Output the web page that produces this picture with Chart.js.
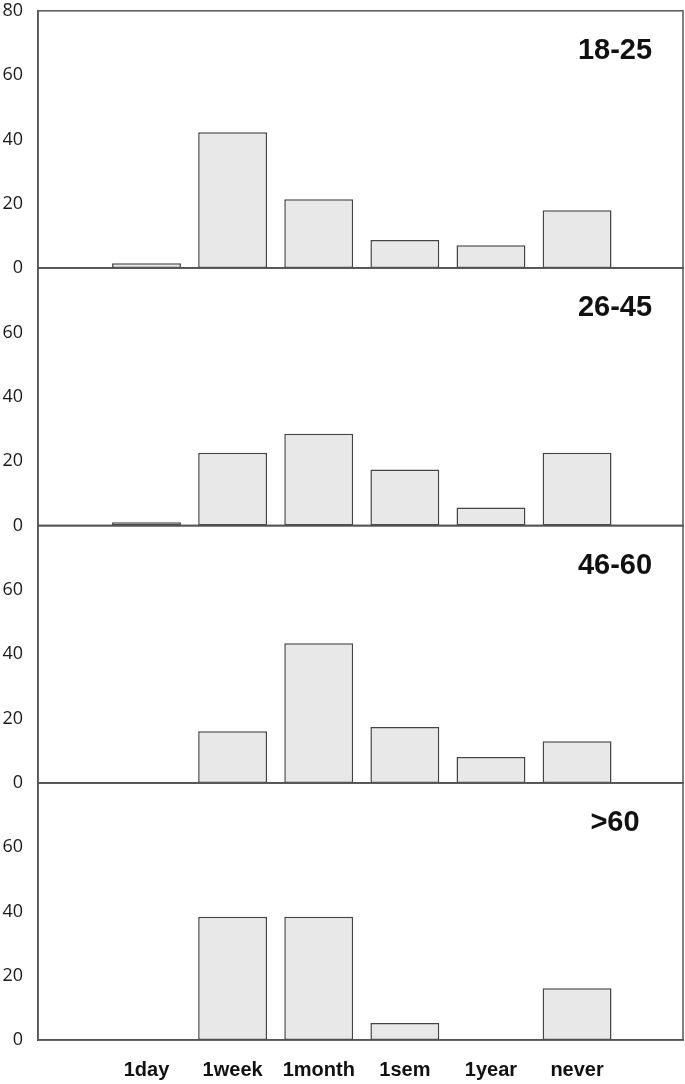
<!DOCTYPE html>
<html>
<head>
<meta charset="utf-8">
<script src="https://cdn.jsdelivr.net/npm/chart.js@4/dist/chart.umd.min.js"></script>
<style>
  html, body { margin:0; padding:0; background:#fff; }
  #wrap { position:relative; width:685px; height:1084px; }
  #wrap canvas { position:absolute; left:0; top:0; }
</style>
</head>
<body>
<div id="wrap">
  <canvas id="p0" width="685" height="1084"></canvas>
  <canvas id="p1" width="685" height="1084"></canvas>
  <canvas id="p2" width="685" height="1084"></canvas>
  <canvas id="p3" width="685" height="1084"></canvas>
</div>
<script>
const categories = ['1day', '1week', '1month', '1sem', '1year', 'never'];
const panelNames = ['18-25', '26-45', '46-60', '>60'];
const age18_25 = [1.5, 42.2, 21.4, 8.7, 7.1, 18.0];
const age26_45 = [1.0, 22.6, 28.5, 17.4, 5.6, 22.6];
const age46_60 = [0, 16.1, 43.4, 17.4, 8.1, 13.0];
const age60plus = [0, 38.4, 38.4, 5.3, 0, 16.1];
const panelValues = [age18_25, age26_45, age46_60, age60plus];
const yTicks = [0, 20, 40, 60, 80];

const LINE = '#555';
const PANEL_TOP = 10.5, PANEL_H = 257.5;

// frame round the plot + age label in the corner
const framePlugin = {
  id: 'frame',
  afterDraw(chart, args, opts) {
    const a = chart.chartArea, ctx = chart.ctx;
    ctx.save();
    ctx.strokeStyle = LINE;
    ctx.lineWidth = 1.5;
    ctx.strokeRect(a.left, a.top, a.right - a.left, a.bottom - a.top);
    ctx.fillStyle = '#111';
    ctx.font = 'bold 29px "Liberation Sans", Arial, sans-serif';
    ctx.textAlign = 'center';
    ctx.textBaseline = 'middle';
    ctx.fillText(opts.name, a.right - 68, a.top + 40);
    ctx.restore();
  }
};

function drawPanel(i) {
  const last = i === panelValues.length - 1;
  const top = PANEL_TOP + i * PANEL_H;
  const bottom = top + PANEL_H;
  // eslint-disable-next-line no-undef
  new Chart(document.getElementById('p' + i), {
    type: 'bar',
    data: {
      datasets: [{
        data: panelValues[i].map((v, k) => ({ x: k, y: v })),
        backgroundColor: '#e8e8e8',
        borderColor: '#444',
        borderWidth: 1.5,
        borderSkipped: false,
        barPercentage: 0.8,
        categoryPercentage: 1
      }]
    },
    options: {
      responsive: false,
      animation: false,
      layout: { padding: { top: top, right: 2, left: 0, bottom: last ? 0 : 1084 - bottom } },
      plugins: { legend: { display: false }, tooltip: { enabled: false }, frame: { name: panelNames[i] } },
      scales: {
        x: {
          type: 'linear',
          offset: false,
          min: -1.26,
          max: 6.23,
          grid: { display: false, drawTicks: true, tickLength: 10 },
          border: { display: true, color: LINE, width: 1.5 },
          afterBuildTicks: s => { s.ticks = categories.map((c, k) => ({ value: k })); },
          afterFit: s => { s.height = last ? 44 : 0; },
          ticks: {
            display: last,
            autoSkip: false,
            maxRotation: 0,
            padding: 8,
            color: '#111',
            font: { family: '"Liberation Sans Narrow", "Liberation Sans", Arial, sans-serif', size: 20, weight: 'bold' },
            callback: v => categories[v] ?? ''
          }
        },
        y: {
          min: 0,
          max: 80,
          grid: { display: false, drawTicks: true, tickLength: 15 },
          border: { display: true, color: LINE, width: 1.5 },
          afterBuildTicks: s => { s.ticks = yTicks.map(v => ({ value: v })); },
          afterFit: s => { s.width = 38; },
          ticks: {
            padding: 0,
            color: '#1a1a1a',
            font: { family: '"Open Sans", "Liberation Sans", sans-serif', size: 18 },
            callback: v => (v === 80 && i > 0) ? '' : String(v)
          }
        }
      }
    },
    plugins: [framePlugin]
  });
}

panelValues.forEach((_, i) => drawPanel(i));
</script>
</body>
</html>
